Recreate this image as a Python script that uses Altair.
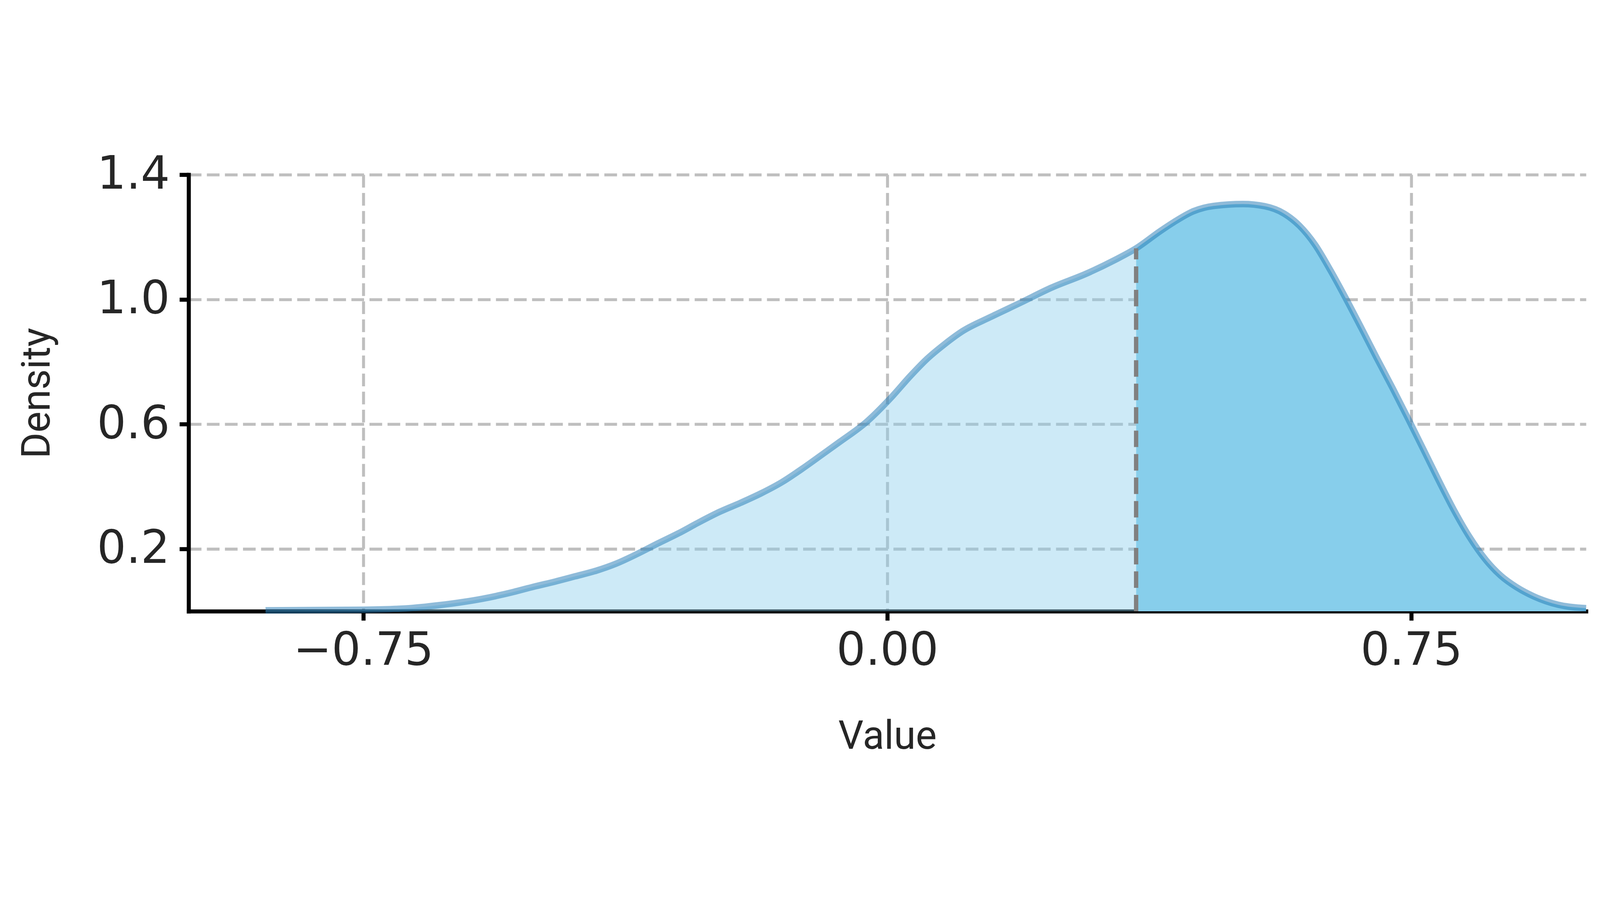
import altair as alt
import pandas as pd

# ---- data ----
X_VALUES = [-0.89, -0.75, -0.69, -0.64, -0.58, -0.535, -0.506, -0.476, -0.447, -0.417,
            -0.388, -0.358, -0.329, -0.299, -0.27, -0.24, -0.21, -0.181, -0.151, -0.122,
            -0.092, -0.069, -0.03, 0.006, 0.033, 0.057, 0.081, 0.108, 0.147, 0.191,
            0.234, 0.286, 0.325, 0.356, 0.391, 0.41, 0.438, 0.467, 0.509, 0.540,
            0.568, 0.59, 0.612, 0.634, 0.656, 0.678, 0.70, 0.723, 0.745, 0.767,
            0.789, 0.811, 0.833, 0.856, 0.878, 0.90, 0.925, 0.96, 1.0]
DENSITY = [0.003, 0.005, 0.009, 0.020, 0.040, 0.062, 0.079, 0.095, 0.112, 0.130,
           0.153, 0.184, 0.217, 0.250, 0.285, 0.319, 0.348, 0.378, 0.414, 0.457,
           0.505, 0.542, 0.607, 0.687, 0.755, 0.810, 0.855, 0.899, 0.943, 0.990,
           1.037, 1.084, 1.126, 1.164, 1.220, 1.248, 1.283, 1.300, 1.306, 1.299,
           1.275, 1.236, 1.176, 1.094, 1.004, 0.910, 0.814, 0.716, 0.619, 0.520,
           0.420, 0.324, 0.239, 0.166, 0.114, 0.078, 0.048, 0.021, 0.010]
THRESHOLD = 0.356
THRESHOLD_DENSITY = 1.164
X_TICKS = [-0.75, 0.0, 0.75]
Y_TICKS = [0.2, 0.6, 1.0, 1.4]
X_TITLE = "Value"
Y_TITLE = "Density"

df = pd.DataFrame({"value": X_VALUES, "density": DENSITY})
left_df = df[df["value"] <= THRESHOLD]
right_df = df[df["value"] >= THRESHOLD]
thr_df = pd.DataFrame({"value": [THRESHOLD], "density": [0.0], "density_end": [THRESHOLD_DENSITY]})

W, H = 5182, 1619

x_enc = alt.X(
    "value:Q",
    scale=alt.Scale(domain=[-1, 1], nice=False, zero=False),
    axis=alt.Axis(
        values=X_TICKS, format=".2f", title=X_TITLE,
        labelPadding=30, labelFlush=False, labelOverlap=False, labelLimit=0,
        titleX=W / 2, titleY=509, titleAngle=0,
        titleAlign="center", titleBaseline="alphabetic",
    ),
)
y_enc = alt.Y(
    "density:Q",
    scale=alt.Scale(domain=[0, 1.4], nice=False),
    axis=alt.Axis(
        values=Y_TICKS, format=".1f", title=Y_TITLE,
        labelPadding=36, labelFlush=False, labelOverlap=False, labelLimit=0,
        titleX=-516, titleY=H / 2, titleAngle=270,
        titleAlign="center", titleBaseline="alphabetic",
    ),
)

area_left = alt.Chart(left_df).mark_area(
    color="#87ceeb", opacity=0.42, interpolate="monotone"
).encode(x=x_enc, y=y_enc)

area_right = alt.Chart(right_df).mark_area(
    color="#87ceeb", opacity=1.0, interpolate="monotone"
).encode(x=x_enc, y=y_enc)

line = alt.Chart(df).mark_line(
    color="#1f77b4", strokeOpacity=0.5, strokeWidth=24, interpolate="monotone"
).encode(x=x_enc, y=y_enc)

rule = alt.Chart(thr_df).mark_rule(
    color="#808080", strokeWidth=16, strokeDash=[61, 26]
).encode(x=x_enc, y=y_enc, y2="density_end:Q")

chart = (
    alt.layer(area_left, area_right, line, rule)
    .properties(
        width=W, height=H,
        padding={"left": 688, "top": 117, "right": 40, "bottom": 580},
        autosize=alt.AutoSizeParams(type="none"),
        background="white",
    )
    .configure_view(stroke=None)
    .configure_axis(
        domainColor="black", domainWidth=15, domainCap="square",
        tickColor="black", tickWidth=15, tickSize=34,
        grid=True, gridColor="#bfbfbf", gridWidth=11, gridDash=[47, 20], gridOpacity=1,
        labelFont="DejaVu Sans", labelFontSize=170, labelColor="#262626",
        titleFont="Roboto", titleFontSize=147, titleFontWeight="normal", titleColor="#262626",
    )
)

chart.save("out.html", embed_options={"renderer": "svg", "actions": False})
